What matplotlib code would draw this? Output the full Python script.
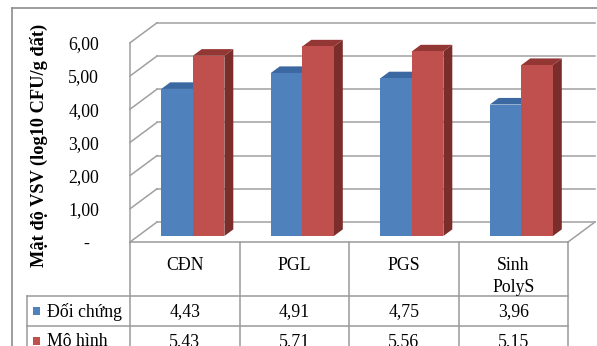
import matplotlib
matplotlib.use("Agg")
import matplotlib.pyplot as plt
from matplotlib.patches import Polygon, Rectangle

plt.rcParams['font.family'] = ['Liberation Serif', 'DejaVu Serif']

categories = ["CĐN", "PGL", "PGS", "Sinh\nPolyS"]
series_names = ["Đối chứng", "Mô hình"]
doi_chung = [4.43, 4.91, 4.75, 3.96]
mo_hinh = [5.43, 5.71, 5.56, 5.15]
y_ticks = [0, 1, 2, 3, 4, 5, 6]
y_tick_labels = ["-", "1,00", "2,00", "3,00", "4,00", "5,00", "6,00"]
y_label = "Mật độ VSV (log10 CFU/g đất)"

# colours: front, top, side
faces = [("#4F81BD", "#3C68A2", "#2F5283"),
         ("#C0504D", "#933735", "#7A2D2B")]
grid_c = "#A0A0A0"

W, H = 597, 346
CAT_PX, VAL_PX = 109.5, 33.2      # pixels per category / per value unit
X0_PX, Y0_PX = 130, 242           # front-left corner of the floor
DX, DY = 27 / CAT_PX, 20 / VAL_PX  # full depth of the plot box
BAR_W = 0.288
BAR_D0, BAR_D1 = 0.30, 0.63
FS = 12.8

fig = plt.figure(figsize=(W / 100, H / 100), dpi=100)
ax = fig.add_axes([0, 0, 1, 1])
ax.set_xlim(-X0_PX / CAT_PX, (W - X0_PX) / CAT_PX)
ax.set_ylim((Y0_PX - H) / VAL_PX, Y0_PX / VAL_PX)
ax.axis("off")

n = len(categories)
ymax = y_ticks[-1]


def pt(x, v, d):
    return (x + d * DX, v + d * DY)


# back wall and left wall gridlines
for t in y_ticks:
    xb, yb = pt(0, t, 1)
    ax.plot([xb, n + DX], [yb, yb], color=grid_c, lw=1.1, zorder=1)
    ax.plot([0, xb], [t, yb], color=grid_c, lw=1.1, zorder=1)
    ax.text(-0.283 if t else -0.40, t - 0.06, y_tick_labels[t],
            ha="right" if t else "center", va="center", fontsize=FS)
ax.plot([0, 0], [0, ymax], color=grid_c, lw=1.1, zorder=1)
# floor edges
ax.plot([n, n + DX], [0, DY], color=grid_c, lw=1.1, zorder=1)

ax.text(-0.83, 2.92, y_label, rotation=90, ha="center", va="center",
        fontsize=13.2, fontweight="bold")

# 3D bars
for i in range(n):
    for s, vals in enumerate([doi_chung, mo_hinh]):
        v = vals[i]
        front, top, side = faces[s]
        xl = i + 0.5 - BAR_W * (1 - s)
        xr = xl + BAR_W
        fl = pt(xl, 0, BAR_D0)
        fr = pt(xr, 0, BAR_D0)
        tl = pt(xl, v, BAR_D0)
        tr = pt(xr, v, BAR_D0)
        btl = pt(xl, v, BAR_D1)
        btr = pt(xr, v, BAR_D1)
        bbr = pt(xr, 0, BAR_D1)
        z = 3 + s
        ax.add_patch(Polygon([fr, bbr, btr, tr], closed=True, fc=side, ec="none", zorder=z))
        ax.add_patch(Polygon([tl, tr, btr, btl], closed=True, fc=top, ec="none", zorder=z))
        ax.add_patch(Polygon([fl, fr, tr, tl], closed=True, fc=front, ec="none", zorder=z))

# data table
tbl_c = "#9A9A9A"
row_h = [0, -54 / VAL_PX, -84 / VAL_PX, -114 / VAL_PX]
left_x = -103 / CAT_PX
ax.plot([0, n], [0, 0], color=tbl_c, lw=1.1, zorder=2)
for i in range(n + 1):
    ax.plot([i, i], [0, row_h[-1]], color=tbl_c, lw=1.1, clip_on=False)
for r in row_h[1:]:
    ax.plot([left_x, n], [r, r], color=tbl_c, lw=1.1, clip_on=False)
ax.plot([left_x, left_x], [row_h[1], row_h[-1]], color=tbl_c, lw=1.1, clip_on=False)

for i, c in enumerate(categories):
    ax.text(i + 0.5, -15 / VAL_PX, c, ha="center", va="top", fontsize=FS,
            linespacing=1.4)

for s, vals in enumerate([doi_chung, mo_hinh]):
    yc = (row_h[s + 1] + row_h[s + 2]) / 2
    ax.add_patch(Rectangle((-97 / CAT_PX, yc - 0.12), 7 / CAT_PX, 0.24,
                           fc=faces[s][0], ec="none"))
    ax.text(-83 / CAT_PX, yc - 0.03, series_names[s], ha="left", va="center", fontsize=FS)
    for i, v in enumerate(vals):
        ax.text(i + 0.5, yc - 0.03, f"{v:.2f}".replace(".", ","), ha="center",
                va="center", fontsize=FS)

# chart area border
border = "#8C8C8C"
fig.add_artist(plt.Line2D([12 / W, 1.0], [1 - 8 / H] * 2, color=border, lw=1.2,
                          transform=fig.transFigure))
fig.add_artist(plt.Line2D([12 / W] * 2, [0, 1 - 8 / H], color=border, lw=1.2,
                          transform=fig.transFigure))

fig.savefig("out.png", dpi=100)
